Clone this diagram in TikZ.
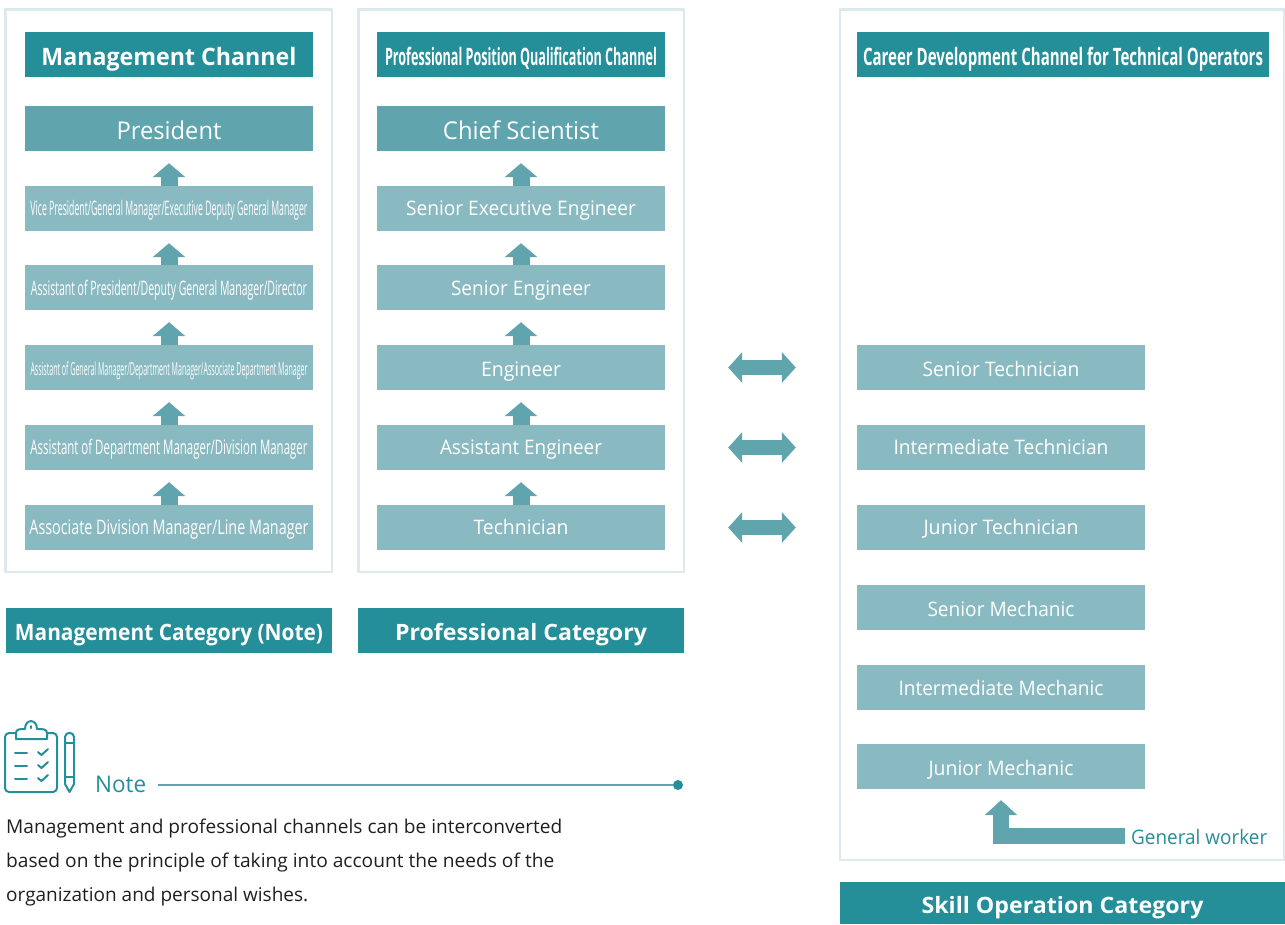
\documentclass[tikz,border=0pt]{standalone}
\usepackage{fontspec}
\usepackage{graphicx}
\setmainfont{Open Sans}
\usetikzlibrary{arrows.meta}
\definecolor{tealdark}{HTML}{248E99}
\definecolor{tealmid}{HTML}{60A4AE}
\definecolor{teallight}{HTML}{8ABAC1}
\definecolor{panelline}{HTML}{DCEAED}
\newcommand{\tw}[2]{\resizebox{#1pt}{\height}{#2}}
\tikzset{
  panelbox/.style={draw=panelline, line width=2.5pt},
  headbox/.style={fill=tealdark, text=white, inner sep=0pt, minimum width=288pt, minimum height=45pt, text height=22.5pt, text depth=0pt, font=\fontsize{24}{28}\selectfont\bfseries},
  catbox/.style={headbox, text height=20pt, font=\fontsize{22.5}{27}\selectfont\bfseries},
  topbox/.style={fill=tealmid, text=white, inner sep=0pt, minimum width=288pt, minimum height=45pt, text height=22pt, text depth=0pt, font=\fontsize{24.5}{28}\selectfont},
  rankbox/.style={fill=teallight, text=white, inner sep=0pt, minimum width=288pt, minimum height=45pt, text height=#1, text depth=0pt, font=\fontsize{20}{24}\selectfont},
  rankbox/.default=14pt,
  uparrow/.style={draw=tealmid, line width=17pt, -{Triangle[width=32pt,length=14pt]}, shorten <=0pt, shorten >=12pt},
  twoarrow/.style={draw=tealmid, line width=15pt, {Triangle[width=30pt,length=14pt]}-{Triangle[width=30pt,length=14pt]}, shorten <=63pt, shorten >=61pt},
  iconline/.style={draw=tealdark, line width=2pt, line cap=round, line join=round},
  noteline/.style={anchor=base west, inner sep=0pt, text=black!88, font=\fontsize{19}{23}\selectfont}
}
\begin{document}
\begin{tikzpicture}[x=1pt,y=-1pt]
    \useasboundingbox (0,0) rectangle (1285,924);

    % Marcos
    \draw[panelbox] (5.5,9.5) rectangle (332,572);
    \draw[panelbox] (358.5,9.5) rectangle (684,572);
    \draw[panelbox] (840,9.5) rectangle (1284,860);

    % Canal de gestion
    \node[headbox] (mgmthead) at (169,54.5) {\tw{255}{Management Channel}};
    \node[topbox] (mgmt1) at (169,128.5) {\tw{105}{President}};
    \node[rankbox=14pt] (mgmt2) at (169,208.5) {\tw{277}{Vice President/General Manager/Executive Deputy General Manager}};
    \node[rankbox=15pt] (mgmt3) at (169,287.5) {\tw{276}{Assistant of President/Deputy General Manager/Director}};
    \node[rankbox=15pt, font=\fontsize{18}{22}\selectfont] (mgmt4) at (169,367.5) {\tw{277}{Assistant of General Manager/Department Manager/Associate Department Manager}};
    \node[rankbox=14pt] (mgmt5) at (169,447.5) {\tw{277}{Assistant of Department Manager/Division Manager}};
    \node[rankbox=14pt] (mgmt6) at (169,527.5) {\tw{279}{Associate Division Manager/Line Manager}};

    % Canal profesional
    \node[headbox] (profhead) at (521,54.5) {\tw{272}{Professional Position Qualification Channel}};
    \node[topbox] (prof1) at (521,128.5) {\tw{156}{Chief Scientist}};
    \node[rankbox=14pt] (prof2) at (521,208.5) {\tw{230}{Senior Executive Engineer}};
    \node[rankbox=15pt] (prof3) at (521,287.5) {\tw{140}{Senior Engineer}};
    \node[rankbox=17pt] (prof4) at (521,367.5) {\tw{80}{Engineer}};
    \node[rankbox=14pt] (prof5) at (521,447.5) {\tw{162}{Assistant Engineer}};
    \node[rankbox=13pt] (prof6) at (521,527.5) {\tw{95}{Technician}};

    % Canal tecnico
    \node[headbox, minimum width=412pt] (techhead) at (1063,54.5) {\tw{400}{Career Development Channel for Technical Operators}};
    \node[rankbox=17pt] (tech1) at (1001,367.5) {\tw{157}{Senior Technician}};
    \node[rankbox=14pt] (tech2) at (1001,447.5) {\tw{215}{Intermediate Technician}};
    \node[rankbox=13pt] (tech3) at (1001,527.5) {\tw{155}{Junior Technician}};
    \node[rankbox=17pt] (tech4) at (1001,607.5) {\tw{147}{Senior Mechanic}};
    \node[rankbox=15pt] (tech5) at (1001,687.5) {\tw{205}{Intermediate Mechanic}};
    \node[rankbox=17pt] (tech6) at (1001,766.5) {\tw{145}{Junior Mechanic}};
    \node[text=tealdark, inner xsep=6pt, inner ysep=0pt, anchor=west, text height=16pt, text depth=0pt, font=\fontsize{20}{24}\selectfont] (worker) at (1125,836) {\tw{136}{General worker}};

    % Categorias
    \node[catbox, minimum width=326pt] (mgmtcat) at (169,630.5) {\tw{308}{Management Category (Note)}};
    \node[catbox, minimum width=326pt] (profcat) at (521,630.5) {\tw{252}{Professional Category}};
    \node[catbox, minimum width=445pt, minimum height=42pt] (techcat) at (1062.5,903) {\tw{282}{Skill Operation Category}};

    % Flechas
    \foreach \a/\b in {2/1,3/2,4/3,5/4,6/5} {
        \draw[uparrow] (mgmt\a.north) -- (mgmt\b.south);
        \draw[uparrow] (prof\a.north) -- (prof\b.south);
    }
    \foreach \a/\b in {4/1,5/2,6/3}
        \draw[twoarrow] (prof\a.east) -- (tech\b.west);
    \draw[draw=tealmid, line width=16pt, -{Triangle[width=32pt,length=15pt]}, shorten >=11pt] (worker.west) -| (tech6.south);

    % Icono
    \draw[iconline, rounded corners=4pt] (5,733) rectangle (57,792);
    \draw[iconline, fill=white] (16,739) -- (16,733) .. controls (16,729) and (20,729) .. (25,729) .. controls (25,718.5) and (37,718.5) .. (37,729) .. controls (43,729) and (47,729) .. (47,733) -- (47,739) -- cycle;
    \draw[iconline] (31,726) -- (31,728);
    \foreach \yy in {753,766,779} {
        \draw[iconline] (15,\yy) -- (27,\yy);
        \draw[iconline] (38,\yy-1) -- (41.5,\yy+2) -- (48,\yy-4);
    }
    \draw[iconline] (65,737) .. controls (65,731.5) and (74,731.5) .. (74,737) -- (74,784) -- (69.5,792) -- (65,784) -- cycle;
    \draw[iconline] (65,743) -- (74,743) (65,777) -- (74,777);

    % Nota
    \node[text=tealdark, inner sep=0pt, anchor=west, text height=16.5pt, text depth=0pt, font=\fontsize{23}{27}\selectfont] (notelabel) at (95,784) {\tw{51}{Note}};
    \coordinate (noteend) at (678,785);
    \node[circle, fill=tealdark, minimum size=10pt, inner sep=0pt] (notedot) at (noteend) {};
    \coordinate (notestart) at (158,785);
    \draw[tealmid, line width=1.5pt] (notestart) -- (notedot);

    \node[noteline] (note1) at (6,833.2) {\tw{556}{Management and professional channels can be interconverted}};
    \node[noteline] (note2) at (6,867.2) {\tw{548}{based on the principle of taking into account the needs of the}};
    \node[noteline] (note3) at (6,901.5) {\tw{302}{organization and personal wishes.}};
\end{tikzpicture}
\end{document}
